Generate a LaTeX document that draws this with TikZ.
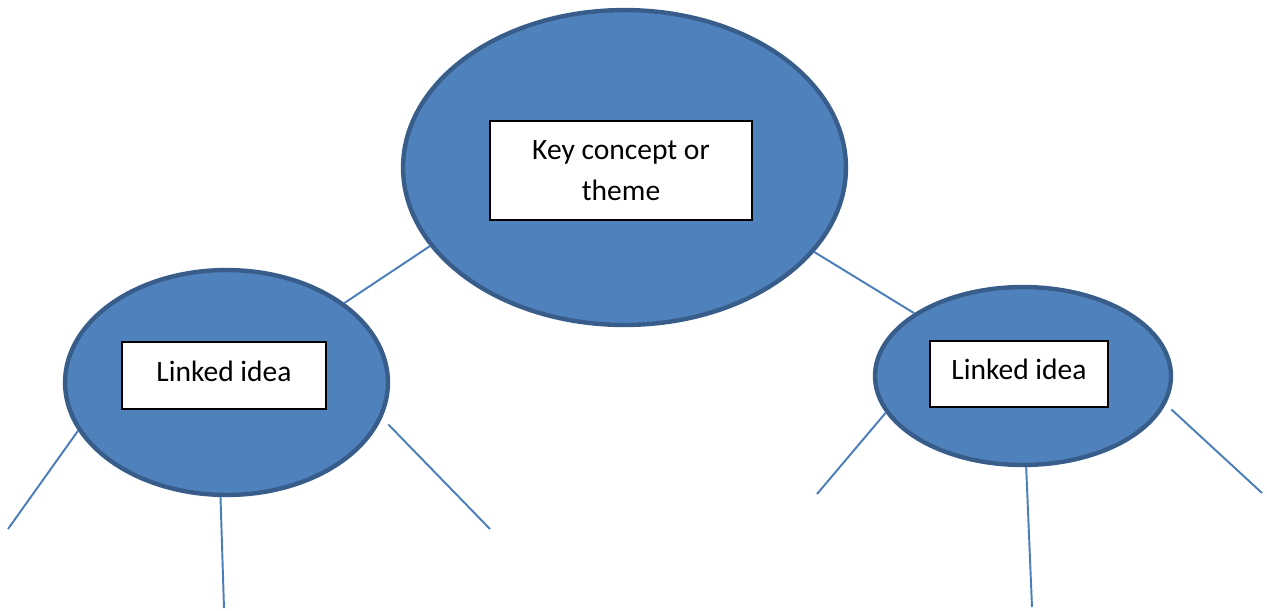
\documentclass[tikz,border=0pt]{standalone}
\usepackage{fontspec}
\setmainfont{Carlito}
\usetikzlibrary{shapes.geometric}
\definecolor{bubblefill}{HTML}{4F81BD}
\definecolor{bubbleedge}{HTML}{385D8A}
\definecolor{linkline}{HTML}{4A7EBB}

\begin{document}
\begin{tikzpicture}[x=0.02cm, y=-0.02cm,
  bubble/.style={shape=ellipse, draw=bubbleedge, fill=bubblefill, line width=2.5pt, inner sep=0pt},
  label box/.style={draw=black, fill=white, line width=1.1pt, align=center, inner sep=0pt, font=\fontsize{16.8}{23.5}\selectfont},
  link/.style={-, draw=linkline, line width=1.1pt}]
\useasboundingbox (0,0) rectangle (1267,610);
\node[bubble, minimum width=8.86cm, minimum height=6.3cm] (key) at (624.5, 167.5) {};
\node[bubble, minimum width=6.46cm, minimum height=4.5cm] (idealeft) at (226.5, 382.5) {};
\node[bubble, minimum width=5.92cm, minimum height=3.56cm] (idearight) at (1023, 376) {};
\node[label box, minimum width=5.24cm, minimum height=1.98cm] (keybox) at (621, 170.5) {Key concept or\\theme};
\node[label box, text depth=5pt, minimum width=4.08cm, minimum height=1.34cm] (leftbox) at (224, 375.5) {Linked idea};
\node[label box, text depth=5pt, minimum width=3.56cm, minimum height=1.32cm] (rightbox) at (1019, 374) {Linked idea};
\coordinate (L1) at (8, 529);
\coordinate (L2) at (224, 608);
\coordinate (L3) at (490, 529);
\coordinate (R1) at (817, 494);
\coordinate (R2) at (1032, 607);
\coordinate (R3) at (1262, 493);
\path [link] (key.202.3) edge (idealeft.34.6);
\path [link] (key.336.7) edge (idearight.150.9);
\path [link] (idealeft.198.9) edge (L1);
\path [link] (idealeft.267.7) edge (L2);
\path [link] ([shift={(9,1)}]idealeft.345.3) edge (L3);
\path [link] (idearight.195.1) edge (R1);
\path [link] (idearight.272.5) edge (R2);
\path [link] ([shift={(8,1)}]idearight.347.5) edge (R3);
\end{tikzpicture}
\end{document}
